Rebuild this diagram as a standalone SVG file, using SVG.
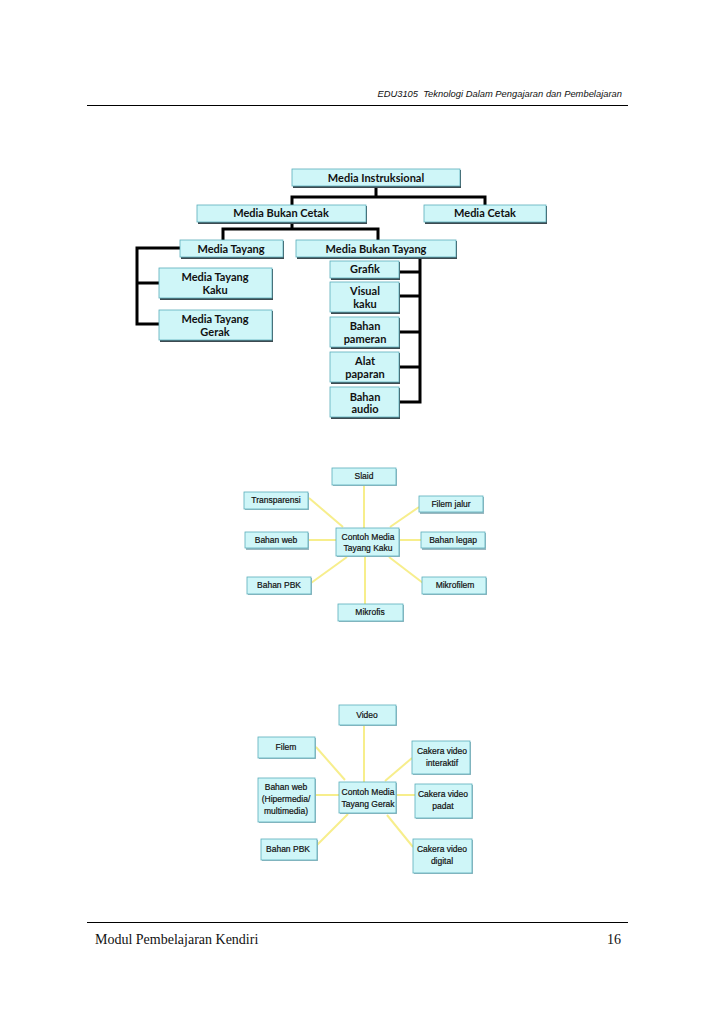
<svg xmlns="http://www.w3.org/2000/svg" width="728" height="1030" viewBox="0 0 728 1030">
<style>
.bg{fill:#ffffff}
.rule{stroke:#000;stroke-width:1}
.hdr{font-family:"Liberation Sans",Arial,sans-serif;font-style:italic;font-size:9.4px;fill:#111;white-space:pre}
.ftr{font-family:"Liberation Serif","Times New Roman",serif;font-size:14px;fill:#111}
.box{fill:#CFF6F8;stroke:#5aaebb;stroke-width:0.8}
.sh{fill:#3c4a50}
.sh2{fill:#9ab8c0}
.t1{font-family:Lato,"Open Sans",sans-serif;font-weight:bold;font-size:11px;fill:#111;text-anchor:middle}
.t2{font-family:"Liberation Sans",Arial,sans-serif;font-size:8.5px;fill:#111;text-anchor:middle;stroke:#111;stroke-width:0.2}
.blk{stroke:#000;stroke-width:3;fill:none;stroke-linejoin:miter;stroke-linecap:square}
.yel{stroke:#F7EE8C;stroke-width:2;fill:none}
</style>
<rect class="bg" width="728" height="1030"/>
<g id="header">
<text class="hdr" x="622" y="97" text-anchor="end" xml:space="preserve">EDU3105  Teknologi Dalam Pengajaran dan Pembelajaran</text>
<line class="rule" x1="87" y1="105.5" x2="628" y2="105.5"/>
</g>
<g id="footer">
<line class="rule" x1="87" y1="922.5" x2="628" y2="922.5"/>
<text class="ftr" x="95" y="944">Modul Pembelajaran Kendiri</text>
<text class="ftr" x="621" y="944" text-anchor="end">16</text>
</g>

<g id="connectors-tree">
<path class="blk" d="M376,186 V197 M292,197 H485 M292,197 V205 M485,197 V205"/>
<path class="blk" d="M292,222 V229 M223,229 H378 M223,229 V240 M378,229 V240"/>
<path class="blk" d="M180,248 H137 V324 M137,283 H159 M137,324 H159"/>
<path class="blk" d="M420,257 V402 M399,272 H420 M399,296 H420 M399,332 H420 M399,367 H420 M399,402 H420"/>
</g>

<g id="n-instruksional"><rect class="sh" x="293" y="170" width="168" height="18"/><rect class="box" x="292" y="169" width="168" height="17"/><text class="t1" x="376" y="182">Media Instruksional</text></g>
<g id="n-bukan-cetak"><rect class="sh" x="198" y="206" width="169" height="18"/><rect class="box" x="197" y="205" width="169" height="17"/><text class="t1" x="281" y="217">Media Bukan Cetak</text></g>
<g id="n-cetak"><rect class="sh" x="425" y="206" width="122" height="18"/><rect class="box" x="424" y="205" width="122" height="17"/><text class="t1" x="485" y="217">Media Cetak</text></g>
<g id="n-tayang"><rect class="sh" x="181" y="241" width="103" height="18"/><rect class="box" x="180" y="240" width="103" height="17"/><text class="t1" x="231" y="253">Media Tayang</text></g>
<g id="n-bukan-tayang"><rect class="sh" x="297" y="241" width="160" height="18"/><rect class="box" x="296" y="240" width="160" height="17"/><text class="t1" x="376" y="253">Media Bukan Tayang</text></g>
<g id="n-tayang-kaku"><rect class="sh" x="160" y="269" width="113" height="31"/><rect class="box" x="159" y="268" width="113" height="30"/><text class="t1" x="215" y="281">Media Tayang</text><text class="t1" x="215" y="294">Kaku</text></g>
<g id="n-tayang-gerak"><rect class="sh" x="160" y="311" width="113" height="31"/><rect class="box" x="159" y="310" width="113" height="30"/><text class="t1" x="215" y="323">Media Tayang</text><text class="t1" x="215" y="336">Gerak</text></g>
<g id="n-grafik"><rect class="sh" x="331" y="262" width="69" height="18"/><rect class="box" x="330" y="261" width="69" height="17"/><text class="t1" x="365" y="273">Grafik</text></g>
<g id="n-visual"><rect class="sh" x="331" y="283" width="69" height="31"/><rect class="box" x="330" y="282" width="69" height="30"/><text class="t1" x="365" y="295">Visual</text><text class="t1" x="365" y="308">kaku</text></g>
<g id="n-pameran"><rect class="sh" x="331" y="318" width="69" height="31"/><rect class="box" x="330" y="317" width="69" height="30"/><text class="t1" x="365" y="330">Bahan</text><text class="t1" x="365" y="343">pameran</text></g>
<g id="n-paparan"><rect class="sh" x="331" y="353" width="69" height="31"/><rect class="box" x="330" y="352" width="69" height="30"/><text class="t1" x="365" y="365">Alat</text><text class="t1" x="365" y="378">paparan</text></g>
<g id="n-audio"><rect class="sh" x="331" y="388" width="69" height="31"/><rect class="box" x="330" y="387" width="69" height="30"/><text class="t1" x="365" y="401">Bahan</text><text class="t1" x="365" y="413">audio</text></g>

<g id="connectors-kaku">
<path class="yel" d="M364,528 V485 M343,527 L309,498 M390,527 L419,507 M308,540 H336 M399,540 H421 M347,557 L311,583 M389,557 L423,583 M365,556 V604"/>
</g>
<g id="k-slaid"><rect class="sh2" x="333" y="469" width="64" height="17"/><rect class="box" x="332" y="468" width="64" height="17"/><text class="t2" x="364" y="479">Slaid</text></g>
<g id="k-transparensi"><rect class="sh2" x="245" y="493" width="64" height="17"/><rect class="box" x="244" y="492" width="64" height="17"/><text class="t2" x="276" y="503">Transparensi</text></g>
<g id="k-filem-jalur"><rect class="sh2" x="420" y="497" width="64" height="17"/><rect class="box" x="419" y="496" width="64" height="16"/><text class="t2" x="451" y="507">Filem jalur</text></g>
<g id="k-center"><rect class="sh2" x="337" y="529" width="63" height="28"/><rect class="box" x="336" y="528" width="63" height="28"/><text class="t2" x="368" y="540">Contoh Media</text><text class="t2" x="368" y="551">Tayang Kaku</text></g>
<g id="k-bahan-web"><rect class="sh2" x="246" y="533" width="63" height="17"/><rect class="box" x="245" y="532" width="63" height="16"/><text class="t2" x="276" y="543">Bahan web</text></g>
<g id="k-bahan-legap"><rect class="sh2" x="422" y="533" width="64" height="17"/><rect class="box" x="421" y="532" width="64" height="16"/><text class="t2" x="453" y="543">Bahan legap</text></g>
<g id="k-bahan-pbk"><rect class="sh2" x="248" y="578" width="64" height="17"/><rect class="box" x="247" y="577" width="64" height="17"/><text class="t2" x="279" y="588">Bahan PBK</text></g>
<g id="k-mikrofilem"><rect class="sh2" x="423" y="578" width="64" height="17"/><rect class="box" x="422" y="577" width="64" height="17"/><text class="t2" x="455" y="588">Mikrofilem</text></g>
<g id="k-mikrofis"><rect class="sh2" x="339" y="605" width="65" height="17"/><rect class="box" x="338" y="604" width="65" height="17"/><text class="t2" x="370" y="615">Mikrofis</text></g>

<g id="connectors-gerak">
<path class="yel" d="M364,782 V725 M345,780 L316,747 M385,781 L412,758 M315,795 H339 M396,795 H415 M348,814 L317,845 M387,815 L413,847"/>
</g>
<g id="g-video"><rect class="sh2" x="340" y="706" width="57" height="20"/><rect class="box" x="339" y="705" width="57" height="20"/><text class="t2" x="367" y="718">Video</text></g>
<g id="g-filem"><rect class="sh2" x="259" y="738" width="57" height="21"/><rect class="box" x="258" y="737" width="57" height="21"/><text class="t2" x="286" y="750">Filem</text></g>
<g id="g-interaktif"><rect class="sh2" x="413" y="742" width="58" height="33"/><rect class="box" x="412" y="741" width="58" height="33"/><text class="t2" x="442" y="754">Cakera video</text><text class="t2" x="442" y="766">interaktif</text></g>
<g id="g-center"><rect class="sh2" x="340" y="783" width="57" height="31"/><rect class="box" x="339" y="782" width="57" height="31"/><text class="t2" x="368" y="795">Contoh Media</text><text class="t2" x="368" y="807">Tayang Gerak</text></g>
<g id="g-bahan-web"><rect class="sh2" x="259" y="779" width="57" height="44"/><rect class="box" x="258" y="778" width="57" height="44"/><text class="t2" x="286" y="790">Bahan web</text><text class="t2" x="286" y="802">(Hipermedia/</text><text class="t2" x="286" y="814">multimedia)</text></g>
<g id="g-padat"><rect class="sh2" x="416" y="785" width="57" height="34"/><rect class="box" x="415" y="784" width="57" height="34"/><text class="t2" x="443" y="797">Cakera video</text><text class="t2" x="443" y="809">padat</text></g>
<g id="g-bahan-pbk"><rect class="sh2" x="262" y="840" width="56" height="21"/><rect class="box" x="261" y="839" width="56" height="21"/><text class="t2" x="288" y="852">Bahan PBK</text></g>
<g id="g-digital"><rect class="sh2" x="414" y="840" width="59" height="34"/><rect class="box" x="413" y="839" width="59" height="34"/><text class="t2" x="442" y="852">Cakera video</text><text class="t2" x="442" y="864">digital</text></g>
</svg>
